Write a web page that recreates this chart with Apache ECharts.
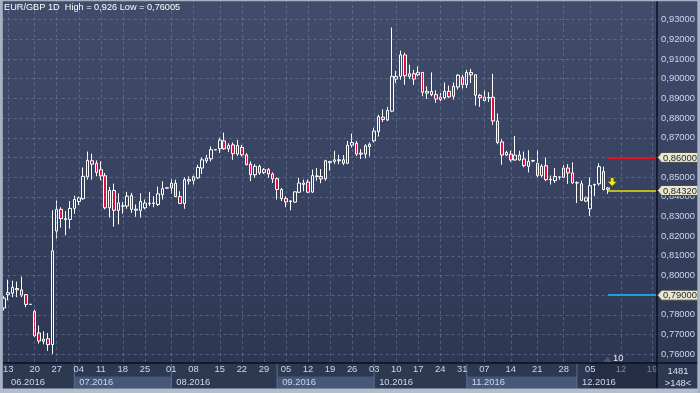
<!DOCTYPE html>
<html><head><meta charset="utf-8">
<script src="https://cdn.jsdelivr.net/npm/echarts@6/dist/echarts.min.js"></script>
<style>html,body{margin:0;padding:0;background:#2d3851;}#c{width:700px;height:393px;}</style>
</head><body><div id="c"></div>
<script>
// ---- data ----
const dates = [
'06-10','06-13','06-14','06-15','06-16','06-17','06-19','06-20','06-21','06-22','06-23','06-24',
'06-27','06-28','06-29','06-30','07-01',
'07-04','07-05','07-06','07-07','07-08',
'07-11','07-12','07-13','07-14','07-15',
'07-18','07-19','07-20','07-21','07-22',
'07-25','07-26','07-27','07-28','07-29','07-31',
'08-01','08-02','08-03','08-04','08-05',
'08-08','08-09','08-10','08-11','08-12','08-14',
'08-15','08-16','08-17','08-18','08-19',
'08-22','08-23','08-24','08-25','08-26',
'08-29','08-30','08-31','09-01','09-02',
'09-05','09-06','09-07','09-08','09-09',
'09-12','09-13','09-14','09-15','09-16',
'09-19','09-20','09-21','09-22','09-23',
'09-26','09-27','09-28','09-29','09-30',
'10-03','10-04','10-05','10-06','10-07',
'10-10','10-11','10-12','10-13','10-14',
'10-17','10-18','10-19','10-20','10-21',
'10-24','10-25','10-26','10-27','10-28',
'10-31','11-01','11-02','11-03','11-04',
'11-07','11-08','11-09','11-10','11-11','11-13',
'11-14','11-15','11-16','11-17','11-18','11-20',
'11-21','11-22','11-23','11-24','11-25','11-27',
'11-28','11-29','11-30','12-01','12-02','12-04',
'12-05','12-06','12-07','12-08','12-09',
'12-10','12-11','12-12','12-13','12-14','12-15','12-16','12-17','12-18','12-19','12-20'
];
const opens = [
0.7835,0.7903,0.7910,0.7934,0.7927,0.7903,0.7853,0.7817,0.7708,0.7666,0.7679,0.7649,
0.8226,0.8336,0.8284,0.8285,0.8341,0.8376,0.8390,0.8501,0.8583,0.8570,0.8538,0.8507,
0.8344,0.8432,0.8331,0.8352,0.8353,0.8406,0.8332,0.8331,0.8344,0.8365,0.8366,0.8361,
0.8411,0.8444,0.8445,0.8469,0.8401,0.8366,0.8480,0.8482,0.8496,0.8546,0.8583,0.8593,
0.8638,0.8644,0.8684,0.8644,0.8664,0.8617,0.8651,0.8613,0.8566,0.8512,0.8555,0.8524,
0.8538,0.8516,0.8492,0.8437,0.8391,0.8375,0.8373,0.8423,0.8463,0.8475,0.8424,0.8503,
0.8491,0.8491,0.8574,0.8580,0.8583,0.8588,0.8570,0.8662,0.8672,0.8617,0.8617,0.8655,
0.8684,0.8731,0.8805,0.8790,0.8835,0.8998,0.9012,0.9121,0.9012,0.9025,0.9020,0.9032,
0.8927,0.8936,0.8919,0.8906,0.8903,0.8936,0.8911,0.8958,0.9007,0.8970,0.9032,0.9020,
0.8916,0.8889,0.8902,0.8906,0.8785,0.8679,0.8612,0.8617,0.8587,0.8587,0.8592,0.8555,
0.8582,0.8570,0.8508,0.8558,0.8486,0.8482,0.8499,0.8499,0.8546,0.8521,0.8470,0.8466,
0.8378,0.8339,0.8460,0.8466,0.8528,0.8438
];
const closes = [
0.7885,0.7913,0.7940,0.7927,0.7900,0.7853,0.7854,0.7693,0.7667,0.7676,0.7649,0.8125,
0.8336,0.8289,0.8290,0.8341,0.8386,0.8395,0.8504,0.8585,0.8566,0.8524,0.8507,0.8344,
0.8432,0.8331,0.8369,0.8354,0.8403,0.8336,0.8337,0.8376,0.8368,0.8367,0.8369,0.8415,
0.8442,0.8446,0.8469,0.8401,0.8366,0.8487,0.8487,0.8502,0.8549,0.8588,0.8597,0.8639,
0.8640,0.8688,0.8644,0.8661,0.8619,0.8661,0.8613,0.8563,0.8512,0.8555,0.8521,0.8538,
0.8516,0.8491,0.8437,0.8391,0.8374,0.8379,0.8425,0.8470,0.8470,0.8423,0.8508,0.8506,
0.8503,0.8583,0.8580,0.8588,0.8588,0.8571,0.8662,0.8676,0.8617,0.8622,0.8659,0.8667,
0.8734,0.8807,0.8793,0.8839,0.9012,0.9012,0.9121,0.9015,0.9025,0.8998,0.9032,0.8931,
0.8936,0.8919,0.8897,0.8894,0.8936,0.8908,0.8961,0.9018,0.8970,0.9032,0.9020,0.8916,
0.8903,0.8906,0.8904,0.8785,0.8676,0.8612,0.8625,0.8587,0.8612,0.8612,0.8558,0.8580,
0.8584,0.8508,0.8555,0.8487,0.8489,0.8503,0.8501,0.8546,0.8521,0.8471,0.8472,0.8382,
0.8395,0.8457,0.8463,0.8553,0.8437,0.8445
];
const lows = [
0.7822,0.7873,0.7890,0.7890,0.7890,0.7839,0.7852,0.7688,0.7654,0.7650,0.7617,0.7601,
0.8188,0.8243,0.8204,0.8238,0.8314,0.8358,0.8385,0.8487,0.8487,0.8504,0.8484,0.8336,
0.8294,0.8248,0.8260,0.8314,0.8339,0.8319,0.8297,0.8294,0.8336,0.8353,0.8347,0.8353,
0.8386,0.8443,0.8415,0.8398,0.8364,0.8339,0.8462,0.8462,0.8491,0.8516,0.8571,0.8580,
0.8637,0.8622,0.8639,0.8627,0.8588,0.8608,0.8605,0.8560,0.8479,0.8496,0.8512,0.8516,
0.8496,0.8470,0.8386,0.8378,0.8347,0.8331,0.8369,0.8420,0.8428,0.8420,0.8420,0.8482,
0.8469,0.8482,0.8533,0.8566,0.8566,0.8561,0.8566,0.8650,0.8608,0.8592,0.8595,0.8605,
0.8676,0.8706,0.8780,0.8785,0.8830,0.8978,0.8995,0.8969,0.8998,0.8969,0.9012,0.8911,
0.8897,0.8911,0.8877,0.8886,0.8894,0.8903,0.8894,0.8945,0.8950,0.8953,0.8978,0.8864,
0.8857,0.8886,0.8882,0.8765,0.8667,0.8563,0.8608,0.8578,0.8583,0.8583,0.8550,0.8524,
0.8575,0.8499,0.8499,0.8479,0.8462,0.8471,0.8487,0.8496,0.8466,0.8466,0.8368,0.8378,
0.8373,0.8303,0.8403,0.8457,0.8432,0.8415
];
const highs = [
0.7895,0.7979,0.7974,0.7969,0.7994,0.7906,0.7855,0.7827,0.7746,0.7716,0.7708,0.8332,
0.8381,0.8347,0.8327,0.8378,0.8406,0.8401,0.8549,0.8630,0.8619,0.8585,0.8580,0.8521,
0.8450,0.8467,0.8418,0.8374,0.8425,0.8420,0.8361,0.8418,0.8386,0.8425,0.8403,0.8452,
0.8479,0.8447,0.8491,0.8487,0.8428,0.8499,0.8504,0.8509,0.8563,0.8600,0.8613,0.8656,
0.8641,0.8701,0.8726,0.8672,0.8676,0.8689,0.8664,0.8622,0.8580,0.8566,0.8563,0.8546,
0.8546,0.8524,0.8499,0.8445,0.8403,0.8381,0.8428,0.8496,0.8487,0.8487,0.8538,0.8546,
0.8541,0.8588,0.8581,0.8634,0.8613,0.8612,0.8684,0.8721,0.8684,0.8642,0.8667,0.8676,
0.8751,0.8817,0.8844,0.8857,0.9260,0.9040,0.9143,0.9133,0.9071,0.9045,0.9062,0.9033,
0.8961,0.9032,0.8941,0.8928,0.8981,0.8965,0.8981,0.9024,0.9020,0.9045,0.9050,0.9021,
0.8923,0.8941,0.8931,0.9025,0.8824,0.8692,0.8634,0.8634,0.8709,0.8634,0.8630,0.8637,
0.8588,0.8637,0.8566,0.8600,0.8508,0.8546,0.8503,0.8561,0.8566,0.8575,0.8479,0.8482,
0.8402,0.8499,0.8466,0.8570,0.8553,0.8449
];
const weekTicks = ['06-13','06-20','06-27','07-04','07-11','07-18','07-25','08-01','08-08','08-15','08-22','08-29',
'09-05','09-12','09-19','09-26','10-03','10-10','10-17','10-24','10-31','11-07','11-14','11-21','11-28','12-05','12-12','12-19'];
const futureTicks = ['12-12','12-19'];
const monthStarts = ['06-10','07-01','08-01','09-01','10-03','11-01','12-01'];
const monthNames = ['06.2016','07.2016','08.2016','09.2016','10.2016','11.2016','12.2016'];
const yGridValues = [0.76,0.77,0.78,0.79,0.80,0.81,0.82,0.83,0.84,0.85,0.86,0.87,0.88,0.89,0.90,0.91,0.92,0.93];
const levelValues = [0.86, 0.8432, 0.79];
const levelStart = '12-09';
const arrowAt = ['12-10', 0.8476];
const titleText = 'EUR/GBP 1D  High = 0,926 Low = 0,76005';
const scrollText = '10';
const cornerTexts = ['1481', '>148<'];

// ---- chart ----
const FONT = '"Liberation Sans", Arial, sans-serif';
const FS = 9.4;
const LABEL = '#cbd8ee';
const chart = echarts.init(document.getElementById('c'), null, {renderer:'canvas'});
const candles = opens.map((o,i)=>[o, closes[i], lows[i], highs[i]]);
const tickSet = new Set(weekTicks);
const futureSet = new Set(futureTicks);
const gridLine = {color:'rgba(135,150,182,0.42)', width:1, type:[3,3]};
const levelColors = ['#e8101e', '#bdb923', '#1c9fe0'];
const lastIdx = dates.length - 1;

const markData = [];
yGridValues.forEach(v => markData.push({yAxis: v, lineStyle: gridLine}));
weekTicks.forEach(d => markData.push({xAxis: dates.indexOf(d), lineStyle: gridLine}));
levelValues.forEach((v,i) => markData.push([
  {coord:[dates.indexOf(levelStart), v], lineStyle:{color:levelColors[i], width:2, type:'solid'}},
  {coord:[lastIdx, v]}
]));

chart.setOption({
  animation:false,
  backgroundColor:{type:'linear',x:0,y:0,x2:0,y2:1,colorStops:[{offset:0,color:'#404c6a'},{offset:0.5,color:'#36425f'},{offset:1,color:'#2b3550'}]},
  title:{text:titleText,left:4,top:3,padding:0,textStyle:{color:'#ffffff',fontSize:9.2,fontWeight:'normal',fontFamily:FONT}},
  grid:{left:0.7,right:41.5,top:-1.97,bottom:19.1},
  xAxis:{type:'category',data:dates,boundaryGap:true,offset:-10.9,z:50,
    axisLine:{show:false},axisTick:{show:false},splitLine:{show:false},
    axisLabel:{interval:(i,v)=>tickSet.has(v),formatter:v=>v.slice(3),
      color:(v)=>futureSet.has(v)?'#7c8aa4':LABEL,fontSize:FS,fontFamily:FONT,margin:2.3}},
  yAxis:{type:'value',position:'right',min:0.75,max:0.94,interval:0.01,
    axisLine:{show:false},axisTick:{show:false},splitLine:{show:false},
    axisLabel:{formatter:v=>v.toFixed(5).replace('.',','),color:LABEL,fontSize:FS,fontFamily:FONT,margin:2.6,showMinLabel:false,showMaxLabel:false}},
  series:[{type:'candlestick',data:candles,barWidth:3,
    itemStyle:{color:'rgba(0,0,0,0)',color0:'#e0103c',borderColor:'#ffffff',borderColor0:'#ffffff',borderWidth:1},
    markLine:{silent:true,symbol:['none','none'],label:{show:false},animation:false,data:markData}
  }]
});

const px = d => chart.convertToPixel({xAxisIndex:0}, typeof d==='string'?dates.indexOf(d):d);
const py = v => chart.convertToPixel({yAxisIndex:0}, v);
const PL = 3, PR = 657, AX = 363, BOT = 388.5;
const G = [];
// bottom band
G.push({type:'rect',z:10,shape:{x:0,y:AX,width:700,height:393-AX},style:{fill:'#2d3851'}});
const mx = monthStarts.map((d,i)=> i===0 ? PL : px(d));
monthStarts.forEach((d,i)=>{
  const x0 = mx[i], x1 = i<monthStarts.length-1 ? mx[i+1] : PR;
  if (i%2===1) G.push({type:'rect',z:11,shape:{x:x0,y:376.5,width:x1-x0,height:BOT-376.5},style:{fill:'#47577a'}});
  if (i>0) G.push({type:'line',z:12,shape:{x1:x0,y1:AX,x2:x0,y2:BOT},style:{stroke:'#5f6e8e',lineWidth:1}});
  G.push({type:'text',z:60,style:{text:monthNames[i],x:x0+(i===0?8:5),y:382.5,fill:LABEL,font:FS+'px '+FONT,textVerticalAlign:'middle',verticalAlign:'middle'}});
});
// current-week shading
G.push({type:'rect',z:13,shape:{x:px('12-05'),y:AX,width:PR-px('12-05'),height:BOT-AX},style:{fill:'rgba(8,12,28,0.22)'}});
// right column bottom
G.push({type:'rect',z:55,shape:{x:PR,y:AX,width:700-PR,height:393-AX},style:{fill:'#2d3851'}});
G.push({type:'text',z:60,style:{text:cornerTexts[0],x:678,y:371,fill:'#d6e0f0',font:FS+'px '+FONT,align:'center',verticalAlign:'middle'}});
G.push({type:'text',z:60,style:{text:cornerTexts[1],x:678,y:383.5,fill:'#d6e0f0',font:FS+'px '+FONT,align:'center',verticalAlign:'middle'}});
// separators
G.push({type:'line',z:62,shape:{x1:0,y1:AX,x2:700,y2:AX},style:{stroke:'#0b1020',lineWidth:1.5}});
G.push({type:'line',z:62,shape:{x1:PR,y1:0,x2:PR,y2:BOT},style:{stroke:'#0b1020',lineWidth:1.5}});
// price tags
levelValues.forEach(v=>{
  const y = py(v);
  G.push({type:'polygon',z:64,shape:{points:[[PR+0.5,y],[PR+4.5,y-5],[698,y-5],[698,y+5],[PR+4.5,y+5]]},
    style:{fill:'#ebe7cd',stroke:'#4a4a4a',lineWidth:1}});
  G.push({type:'text',z:65,style:{text:v.toFixed(5).replace('.',','),x:663,y:y+0.5,fill:'#1c2236',font:FS+'px '+FONT,verticalAlign:'middle'}});
});
// arrow
(function(){
  const cx = px(arrowAt[0]), cy = py(arrowAt[1]);
  G.push({type:'polygon',z:64,shape:{points:[[cx-1.6,cy-4.2],[cx+1.6,cy-4.2],[cx+1.6,cy-0.3],[cx+4.6,cy-0.3],[cx,cy+4.4],[cx-4.6,cy-0.3],[cx-1.6,cy-0.3]]},
    style:{fill:'#f4ec12',stroke:'rgba(70,60,0,0.7)',lineWidth:0.6}});
})();
// scroll marker
G.push({type:'polygon',z:64,shape:{points:[[603,362],[607.5,356.5],[612,362]]},style:{fill:'#4a5670'}});
G.push({type:'text',z:64,style:{text:scrollText,x:613,y:358.5,fill:'#e6edf6',font:FS+'px '+FONT,verticalAlign:'middle'}});
// frame
G.push({type:'rect',z:70,shape:{x:0,y:0,width:2.8,height:393},style:{fill:'#a7b2c4'}});
G.push({type:'rect',z:70,shape:{x:0,y:BOT,width:700,height:393-BOT},style:{fill:'#b3bdcc'}});
G.push({type:'rect',z:70,shape:{x:697.3,y:0,width:2.7,height:393},style:{fill:'#a7b2c4'}});
G.push({type:'rect',z:70,shape:{x:0,y:0,width:700,height:1.2},style:{fill:'#a7b2c4'}});
chart.setOption({graphic:{elements:G}});
</script>
</body></html>
